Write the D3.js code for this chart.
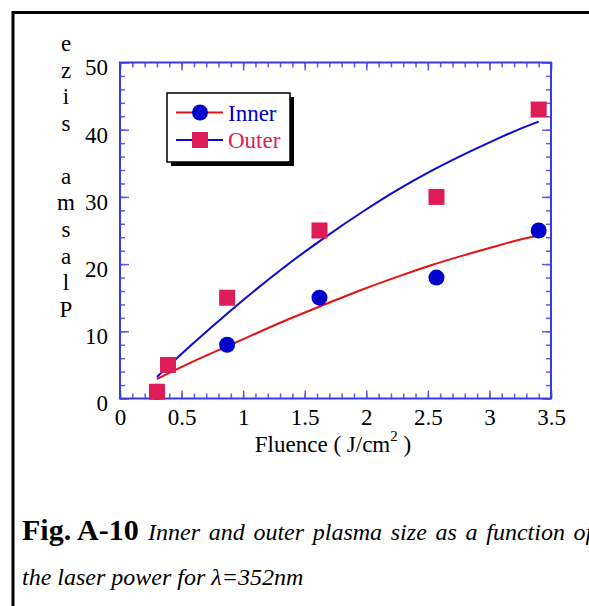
<!DOCTYPE html>
<html>
<head>
<meta charset="utf-8">
<script src="https://cdn.jsdelivr.net/npm/d3@7"></script>
<style>
  html, body { margin: 0; padding: 0; background: #fff; }
  svg { display: block; }
  text { font-family: "Liberation Serif", "Times New Roman", serif; }
</style>
</head>
<body>
<script>
// Measured points: fluence (J/cm^2) vs plasma size
const fluence    = [0.30, 0.39, 0.87, 1.62, 2.57, 3.40];
const innerSize  = [1, 5, 8, 15, 18, 25];
const outerSize  = [1, 5, 15, 25, 30, 43];

// Fitted curves, sampled along fluence
const fitFluence = [0.30, 0.57, 0.90, 1.33, 1.65, 1.98, 2.25, 2.52, 2.79, 3.06, 3.22, 3.40];
const innerFit   = [2.9, 5.3, 8.0, 11.5, 13.9, 16.3, 18.1, 19.8, 21.3, 22.7, 23.5, 24.3];
const outerFit   = [3.2, 7.8, 13.1, 19.5, 23.8, 27.9, 31.0, 33.8, 36.3, 38.6, 39.9, 41.2];

// Axis ticks
const xMajor = [0, 0.5, 1, 1.5, 2, 2.5, 3, 3.5];
const xTickLabels = ["0", "0.5", "1", "1.5", "2", "2.5", "3", "3.5"];
const xMinor = d3.range(0, 36).map(i => i / 10);
const yMajor = [0, 10, 20, 30, 40, 50];
const yTickLabels = ["0", "10", "20", "30", "40", "50"];
const yMinor = d3.range(0, 51, 2);

const seriesNames = ["Inner", "Outer"];
const yTitle = "Plasma size";
const captionHead = "Fig. A-10";
const captionLine1 = "Inner and outer plasma size as a function of";
const captionLine2 = "the laser power for \u03bb=352nm";

const W = 589, H = 606;
const C = {
  circle: "#0000cc",
  square: "#de1c58",
  redFit: "#e01414",
  blueFit: "#0a0ad0",
  frame: "#3a3ae6",
  tick: "#5c5cee"
};

const svg = d3.select("body").append("svg").attr("width", W).attr("height", H);

// Page frame (top and left rules)
svg.append("path")
  .attr("d", `M13,606 L13,12.5 L589,12.5`)
  .attr("fill", "none").attr("stroke", "#000").attr("stroke-width", 3);

const x = d3.scaleLinear().domain([0, 3.5]).range([120, 551]);
const y = d3.scaleLinear().domain([0, 50]).range([398.5, 62.5]);

const g = svg.append("g");

function styleAxis(sel) {
  sel.select(".domain").remove();
  sel.selectAll(".tick line").attr("stroke", C.tick).attr("stroke-width", 1.5);
  sel.selectAll("text").attr("font-size", 23).attr("fill", "#000")
     .attr("font-family", '"Liberation Serif", "Times New Roman", serif');
}

// Minor ticks on all four sides
g.append("g").attr("transform", `translate(0,${y(0)})`)
  .call(d3.axisBottom(x).tickValues(xMinor).tickSize(-5).tickFormat(""))
  .call(styleAxis);
g.append("g").attr("transform", `translate(0,${y(50)})`)
  .call(d3.axisTop(x).tickValues(xMinor).tickSize(-5).tickFormat(""))
  .call(styleAxis);
g.append("g").attr("transform", `translate(${x(0)},0)`)
  .call(d3.axisLeft(y).tickValues(yMinor).tickSize(-5).tickFormat(""))
  .call(styleAxis);
g.append("g").attr("transform", `translate(${x(3.5)},0)`)
  .call(d3.axisRight(y).tickValues(yMinor).tickSize(-5).tickFormat(""))
  .call(styleAxis);

// Major ticks with labels
g.append("g").attr("transform", `translate(0,${y(0)})`)
  .call(d3.axisBottom(x).tickValues(xMajor).tickSize(-8).tickPadding(10)
        .tickFormat((d, i) => xTickLabels[i]))
  .call(styleAxis);
g.append("g").attr("transform", `translate(0,${y(50)})`)
  .call(d3.axisTop(x).tickValues(xMajor).tickSize(-8).tickFormat(""))
  .call(styleAxis);
const yAx = g.append("g").attr("transform", `translate(${x(0)},0)`)
  .call(d3.axisLeft(y).tickValues(yMajor).tickSize(-9).tickPadding(12)
        .tickFormat((d, i) => yTickLabels[i]))
  .call(styleAxis);
yAx.selectAll("text").attr("dy", "0.54em");
g.append("g").attr("transform", `translate(${x(3.5)},0)`)
  .call(d3.axisRight(y).tickValues(yMajor).tickSize(-9).tickFormat(""))
  .call(styleAxis);

// Plot frame
g.append("rect")
  .attr("x", x(0)).attr("y", y(50))
  .attr("width", x(3.5) - x(0)).attr("height", y(0) - y(50))
  .attr("fill", "none").attr("stroke", C.frame).attr("stroke-width", 2);

// Fit curves
const line = d3.line().x(d => x(d[0])).y(d => y(d[1])).curve(d3.curveMonotoneX);
g.append("path").datum(fitFluence.map((f, i) => [f, innerFit[i]]))
  .attr("d", line).attr("fill", "none").attr("stroke", C.redFit).attr("stroke-width", 2);
g.append("path").datum(fitFluence.map((f, i) => [f, outerFit[i]]))
  .attr("d", line).attr("fill", "none").attr("stroke", C.blueFit).attr("stroke-width", 2);

// Markers
g.selectAll("circle.inner").data(fluence.map((f, i) => [f, innerSize[i]]))
  .enter().append("circle").attr("class", "inner")
  .attr("cx", d => x(d[0])).attr("cy", d => y(d[1])).attr("r", 8)
  .attr("fill", C.circle);
g.selectAll("rect.outer").data(fluence.map((f, i) => [f, outerSize[i]]))
  .enter().append("rect").attr("class", "outer")
  .attr("x", d => x(d[0]) - 8).attr("y", d => y(d[1]) - 8)
  .attr("width", 16).attr("height", 16)
  .attr("fill", C.square);

// Legend
const lg = svg.append("g");
lg.append("rect").attr("x", 171).attr("y", 97).attr("width", 123).attr("height", 69).attr("fill", "#000");
lg.append("rect").attr("x", 167).attr("y", 93).attr("width", 123).attr("height", 69)
  .attr("fill", "#fff").attr("stroke", "#000").attr("stroke-width", 1.5);
const rows = [
  { name: seriesNames[0], lineColor: C.redFit, color: C.circle, y: 112.5, shape: "circle" },
  { name: seriesNames[1], lineColor: C.blueFit, color: C.square, y: 140, shape: "square" }
];
rows.forEach(r => {
  lg.append("line").attr("x1", 176).attr("x2", 223).attr("y1", r.y).attr("y2", r.y)
    .attr("stroke", r.lineColor).attr("stroke-width", 2);
  if (r.shape === "circle") {
    lg.append("circle").attr("cx", 200).attr("cy", r.y).attr("r", 8).attr("fill", r.color);
  } else {
    lg.append("rect").attr("x", 192).attr("y", r.y - 8).attr("width", 16).attr("height", 16).attr("fill", r.color);
  }
  lg.append("text").attr("x", 228).attr("y", r.y + 8).attr("font-size", 23)
    .attr("fill", r.shape === "circle" ? C.circle : C.square).text(r.name);
});

// Y-axis title: letters stacked, reading bottom to top
const letters = yTitle.split("").reverse();
svg.append("g").selectAll("text").data(letters).enter().append("text")
  .attr("x", 66).attr("y", (d, i) => 51 + i * 26.57)
  .attr("text-anchor", "middle").attr("font-size", 23).attr("fill", "#000")
  .text(d => d);

// X-axis title
const xt = svg.append("text").attr("x", 333).attr("y", 452)
  .attr("text-anchor", "middle").attr("font-size", 23).attr("fill", "#000");
xt.append("tspan").text("Fluence ( J/cm");
xt.append("tspan").attr("font-size", 15).attr("dy", -11).text("2");
xt.append("tspan").attr("dy", 11).text(" )");

// Caption
const cap = svg.append("text").attr("x", 22).attr("y", 540).attr("fill", "#000");
cap.append("tspan").attr("font-size", 30).attr("font-weight", "bold").text(captionHead);
cap.append("tspan").attr("x", 148).attr("font-size", 24).attr("font-style", "italic")
  .attr("word-spacing", 2.7).text(captionLine1);
svg.append("text").attr("x", 22).attr("y", 585).attr("fill", "#000")
  .attr("font-size", 24).attr("font-style", "italic").text(captionLine2);
</script>
</body>
</html>
